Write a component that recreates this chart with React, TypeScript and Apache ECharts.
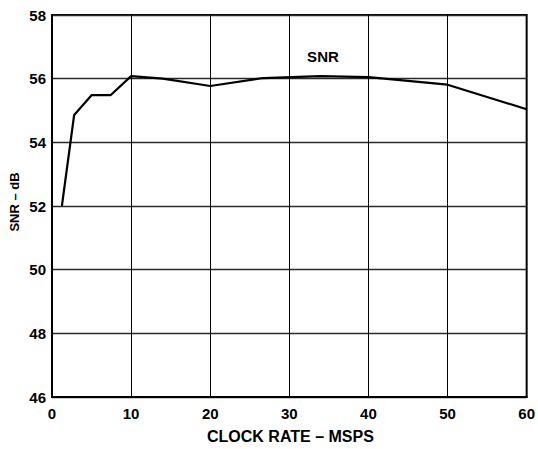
import React, { useEffect, useRef } from "react";
import * as echarts from "echarts";

const clockRate = [1.25, 2.8, 5, 7.4, 10, 14, 20, 26.7, 33.9, 40, 50, 60];
const snrValues = [52.0, 54.86, 55.48, 55.48, 56.08, 56.0, 55.77, 56.02, 56.08, 56.05, 55.81, 55.04];
const seriesLabel = "SNR";
const labelPoint = [34.25, 56.71];
const xTitle = "CLOCK RATE – MSPS";
const yTitle = "SNR – dB";

const FONT = "'Liberation Sans', Arial, Helvetica, sans-serif";

export default function App() {
  const ref = useRef<HTMLDivElement>(null);
  useEffect(() => {
    if (!ref.current) return;
    const chart = echarts.init(ref.current, null, { renderer: "svg" });
    chart.setOption({
      animation: false,
      backgroundColor: "#ffffff",
      grid: {
        left: 52,
        right: 6,
        top: 15,
        bottom: 52,
        show: true,
        borderColor: "#000",
        borderWidth: 2,
        backgroundColor: "transparent",
      },
      xAxis: {
        type: "value",
        min: 0,
        max: 60,
        interval: 10,
        axisLine: { show: true, lineStyle: { color: "#000", width: 2 } },
        axisTick: { show: false },
        axisLabel: {
          margin: 9,
          color: "#000",
          fontSize: 15,
          fontWeight: "bold",
          fontFamily: FONT,
        },
        splitLine: { show: true, lineStyle: { color: "#000", width: 1 } },
      },
      yAxis: {
        type: "value",
        min: 46,
        max: 58,
        interval: 2,
        axisLine: { show: true, lineStyle: { color: "#000", width: 2 } },
        axisTick: { show: false },
        axisLabel: {
          margin: 6,
          color: "#000",
          fontSize: 15,
          fontWeight: "bold",
          fontFamily: FONT,
        },
        splitLine: { show: true, lineStyle: { color: "#2a2a2a", width: 1.3 } },
      },
      graphic: [
        {
          type: "text",
          left: 291 - 84,
          top: 428,
          style: {
            text: xTitle,
            fill: "#000",
            font: `bold 16px ${FONT}`,
          },
        },
        {
          type: "text",
          x: 14.5,
          y: 202,
          rotation: Math.PI / 2,
          style: {
            text: yTitle,
            fill: "#000",
            font: `bold 13px ${FONT}`,
            align: "center",
            verticalAlign: "middle",
          },
        },
      ],
      series: [
        {
          type: "line",
          data: clockRate.map((x, i) => [x, snrValues[i]]),
          showSymbol: false,
          symbol: "none",
          lineStyle: { color: "#000", width: 2.2 },
          z: 5,
          markPoint: {
            symbol: "circle",
            symbolSize: 0,
            data: [{ coord: labelPoint, value: seriesLabel }],
            label: {
              show: true,
              position: "inside",
              formatter: seriesLabel,
              color: "#000",
              fontSize: 15,
              fontWeight: "bold",
              fontFamily: FONT,
            },
          },
        },
      ],
    });
    return () => chart.dispose();
  }, []);
  return (
    <div
      ref={ref}
      style={{ position: "absolute", left: 0, top: 0, width: 538, height: 449 }}
    />
  );
}
